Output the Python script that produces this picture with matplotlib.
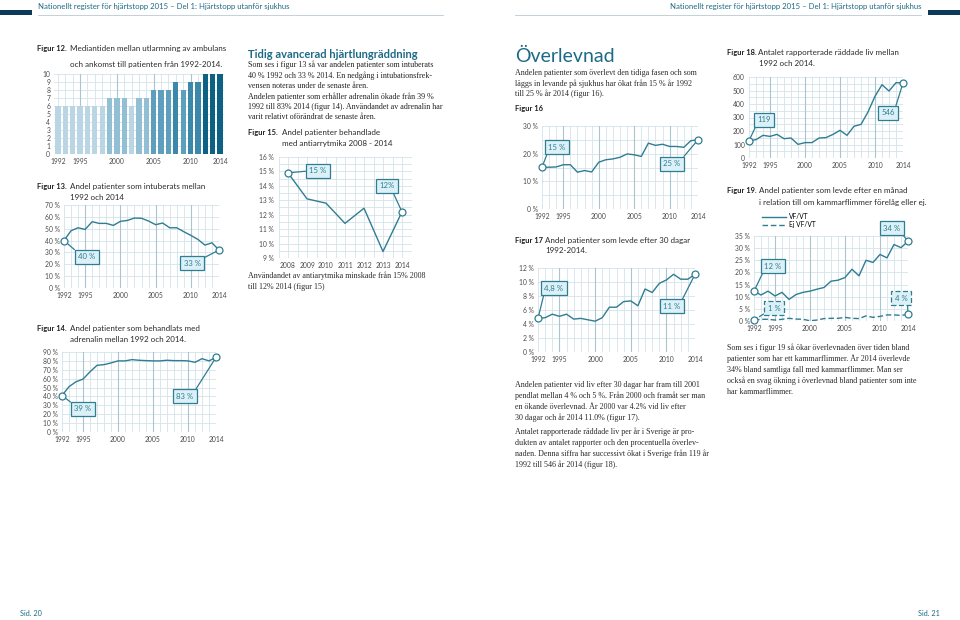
import matplotlib
matplotlib.use('Agg')
import matplotlib.pyplot as plt
from matplotlib.lines import Line2D
import numpy as np

years = list(range(1992, 2015))
year_ticks = [1992, 1995, 2000, 2005, 2010, 2014]

# fig 12: median minutes from alarm to ambulance arrival
f12_minutes = [6, 6, 6, 6, 6, 6, 6, 7, 7, 7, 6, 7, 7, 8, 8, 8, 9, 8, 9, 9, 10, 10, 10]
# fig 13: share intubated (%)
f13_intub = [40, 48.3, 50.8, 49.4, 55.9, 54.5, 54.5, 52.8, 56.2, 57, 59, 58.8,
             56.5, 53.4, 54.8, 50.8, 50.8, 47.5, 44.4, 41, 36.2, 38.1, 32]
# fig 14: share given adrenalin (%)
f14_adren = [41, 51, 56.5, 59.5, 67.7, 75, 75.8, 77.7, 80, 80, 81.4, 80.7,
             80.3, 80, 80, 80.7, 80.3, 80.3, 80, 78.4, 82.5, 80, 84]
# fig 15: antiarrhythmics 2008-2014 (%)
f15_years = list(range(2008, 2015))
f15_antiarr = [14.9, 13.1, 12.8, 11.4, 12.45, 9.45, 12.2]
# fig 16: alive at hospital admission (%)
f16_admitted = [15.1, 15.1, 15.2, 16, 16, 13.3, 13.9, 13.4, 16.9, 17.8, 18.1, 18.7,
                19.9, 19.6, 19, 23.8, 23, 23.4, 22.6, 22.6, 22.3, 24.7, 25]
# fig 17: alive after 30 days (%)
f17_30days = [4.8, 4.9, 5.4, 5.1, 5.4, 4.7, 4.8, 4.6, 4.4, 4.9, 6.4, 6.4,
              7.2, 7.3, 6.6, 9, 8.5, 9.8, 10.3, 11.1, 10.4, 10.4, 11.1]
# fig 18: reported lives saved
f18_saved = [128, 136, 168, 160, 175, 143, 148, 101, 114, 114, 148, 151,
             175, 205, 168, 235, 249, 341, 457, 543, 496, 558, 556]
# fig 19: alive after one month, VF/VT and not VF/VT (%)
f19_vf = [12.3, 10.7, 12.3, 10.3, 11.8, 8.9, 10.9, 11.8, 12.3, 13.1, 13.8, 16.4,
          16.8, 17.9, 21.3, 18.6, 25, 24.1, 27.4, 26, 31.5, 30.2, 32.8]
f19_ej_vf = [0.4, 0.7, 0.7, 0.4, 0.7, 1.1, 0.8, 0.7, 0.1, 0.4, 1, 1.1,
             1.1, 1.5, 1.1, 1, 2.1, 1.5, 1.9, 2.5, 2.5, 2.3, 2.7]

# ---- styling ----
W, H = 960, 620
SANS = ['Lato', 'DejaVu Sans']
SERIF = ['Liberation Serif', 'DejaVu Serif']
LINE = '#2f7d92'
GRID = '#d3e3ea'
GRID_DARK = '#a9c5d1'
BOXFC = '#dcf1f7'
TEAL = '#1d6a85'
TICK = '#4a4a4a'
BAR_COLORS = {6: '#bad6e5', 7: '#93bfd5', 8: '#5f9fbe', 9: '#3c88aa', 10: '#0d6283'}
BODY = 5.75

fig = plt.figure(figsize=(9.6, 6.2), dpi=100)
fig.patch.set_facecolor('white')


def txt(x, y, s, size=5.8, family=SANS, weight='normal', color='#2a2a2a', ha='left'):
    fig.text(x / W, 1 - y / H, s, fontsize=size, family=family, weight=weight,
             color=color, ha=ha, va='center')


def fig_label(x, y, s):
    txt(x, y, s, size=5.4, weight='bold', color='#1e1e1e')


def place(xa, xb, pxa, pxb, ya, yb, pya, pyb, xlim, ylim):
    # put an axes so that data (xa, ya) / (xb, yb) land on given page pixels
    sx = (pxb - pxa) / (xb - xa)
    sy = (pyb - pya) / (yb - ya)
    left = pxa + (xlim[0] - xa) * sx
    right = pxa + (xlim[1] - xa) * sx
    top = pya + (ylim[1] - ya) * sy
    bottom = pya + (ylim[0] - ya) * sy
    ax = fig.add_axes([left / W, 1 - bottom / H, (right - left) / W, (bottom - top) / H])
    ax.set_xlim(*xlim)
    ax.set_ylim(*ylim)
    for sp in ax.spines.values():
        sp.set_visible(False)
    ax.tick_params(length=0, labelsize=4.9, colors=TICK, pad=3)
    ax.set_facecolor('none')
    return ax


def draw_grid(ax, xs, hvals, dark=(1995, 2000, 2005, 2010)):
    for v in hvals:
        ax.axhline(v, color=GRID, lw=0.6, zorder=0)
    for x in xs:
        ax.axvline(x, color=GRID_DARK if x in dark else GRID,
                   lw=0.8 if x in dark else 0.6, zorder=0)


def fonts(ax):
    for lab in ax.get_xticklabels() + ax.get_yticklabels():
        lab.set_family(SANS)
        lab.set_fontsize(4.9)
        lab.set_color(TICK)


def callout(ax, x, y, s, off, rel, dashed=False):
    ls = (0, (4, 2)) if dashed else '-'
    ax.annotate(s, xy=(x, y), xytext=off, textcoords='offset pixels',
                ha='center', va='center', fontsize=5.6, color=LINE, family=SANS,
                bbox=dict(boxstyle='square,pad=0.45', fc=BOXFC, ec=LINE, lw=0.9, ls=ls),
                arrowprops=dict(arrowstyle='-', color=LINE, lw=0.9, ls=ls,
                                shrinkA=0, shrinkB=0, relpos=rel),
                annotation_clip=False, zorder=7)
    ax.plot([x], [y], 'o', ms=5, mfc='white', mec=LINE, mew=0.9, clip_on=False, zorder=8)


def pct(vals):
    return [f'{v:g} %' for v in vals]


# ---- page header / footer ----
fig.add_artist(plt.Rectangle((0, 1 - 14.5 / H), 32 / W, 5 / H, transform=fig.transFigure,
                             color='#0c3a58', lw=0))
fig.add_artist(plt.Rectangle((928 / W, 1 - 14.5 / H), 32 / W, 5 / H, transform=fig.transFigure,
                             color='#0c3a58', lw=0))
fig.add_artist(Line2D([38 / W, 443 / W], [1 - 14.5 / H] * 2, color='#b9c9d1', lw=0.6))
fig.add_artist(Line2D([515 / W, 921 / W], [1 - 14.5 / H] * 2, color='#b9c9d1', lw=0.6))
head = 'Nationellt register för hjärtstopp 2015 – Del 1: Hjärtstopp utanför sjukhus'
txt(38, 6, head, size=5.6, color=TEAL)
txt(921, 6, head, size=5.6, color=TEAL, ha='right')
txt(20, 614, 'Sid. 20', size=5.2, color=TEAL)
txt(940, 614, 'Sid. 21', size=5.2, color=TEAL, ha='right')

# ---- Figur 12 ----
fig_label(37, 49, 'Figur 12.')
txt(70, 49, 'Mediantiden mellan utlarmning av ambulans')
txt(70, 64, 'och ankomst till patienten från 1992-2014.')
ax = place(1992, 2014, 58, 220, 0, 10, 154, 74, (1991.5, 2014.5), (0, 10))
draw_grid(ax, years, range(0, 11))
ax.bar(years, f12_minutes, width=0.72, color=[BAR_COLORS[v] for v in f12_minutes], zorder=2)
ax.set_yticks(range(0, 11))
ax.set_xticks(year_ticks)
fonts(ax)

# ---- Figur 13 ----
fig_label(37, 186, 'Figur 13.')
txt(70, 186, 'Andel patienter som intuberats mellan')
txt(70, 197, '1992 och 2014')
ax = place(1992, 2014, 64, 219, 0, 70, 288, 205, (1992, 2014), (0, 70))
draw_grid(ax, years, range(0, 71, 10))
ax.plot(years, f13_intub, color=LINE, lw=1, zorder=3)
ax.set_yticks(range(0, 71, 10))
ax.set_yticklabels(pct(range(0, 71, 10)))
ax.set_xticks(year_ticks)
fonts(ax)
callout(ax, years[0], f13_intub[0], '40 %', (23, -16), (0, 1))
callout(ax, years[-1], f13_intub[-1], '33 %', (-27, -13), (1, 1))

# ---- Figur 14 ----
fig_label(37, 329, 'Figur 14.')
txt(70, 329, 'Andel patienter som behandlats med')
txt(70, 340, 'adrenalin mellan 1992 och 2014.')
ax = place(1992, 2014, 62, 216, 0, 90, 432, 352, (1992, 2014), (0, 90))
draw_grid(ax, years, range(0, 91, 10))
ax.plot(years, f14_adren, color=LINE, lw=1, zorder=3)
ax.set_yticks(range(0, 91, 10))
ax.set_yticklabels(pct(range(0, 91, 10)))
ax.set_xticks(year_ticks)
fonts(ax)
callout(ax, years[0], f14_adren[0], '39 %', (21, -13), (0, 1))
callout(ax, years[-1], f14_adren[-1], '83 %', (-31, -39), (1, 1))

# ---- middle column text ----
txt(248, 54, 'Tidig avancerad hjärtlungräddning', size=8, weight='bold', color=TEAL)
body1 = ['Som ses i figur 13 så var andelen patienter som intuberats',
         '40 % 1992 och 33 % 2014. En nedgång i intubationsfrek-',
         'vensen noteras under de senaste åren.',
         'Andelen patienter som erhåller adrenalin ökade från 39 %',
         '1992 till 83% 2014 (figur 14). Användandet av adrenalin har',
         'varit relativt oförändrat de senaste åren.']
for i, line in enumerate(body1):
    txt(248, 65 + i * 10.5, line, size=BODY, family=SERIF, color='#222222')

fig_label(248, 132, 'Figur 15.')
txt(282, 132, 'Andel patienter behandlade')
txt(282, 143, 'med antiarrytmika 2008 - 2014')
ax = place(2008, 2014, 288, 402, 9, 16, 258, 157, (2007.5, 2014.5), (9, 16))
draw_grid(ax, np.arange(2007.5, 2014.6, 0.5), np.arange(9, 16.01, 0.5), dark=())
ax.plot(f15_years, f15_antiarr, color=LINE, lw=1, zorder=3)
ax.set_yticks(range(9, 17))
ax.set_yticklabels(pct(range(9, 17)))
ax.set_xticks(f15_years)
fonts(ax)
callout(ax, f15_years[0], f15_antiarr[0], '15 %', (30, 2), (0, 0.5))
callout(ax, f15_years[-1], f15_antiarr[-1], '12%', (-15, 26), (0.8, 0))
txt(248, 276, 'Användandet av antiarytmika minskade från 15% 2008', size=BODY, family=SERIF)
txt(248, 287, 'till 12% 2014 (figur 15)', size=BODY, family=SERIF)

# ---- Överlevnad column ----
txt(515, 56, 'Överlevnad', size=14, color=TEAL)
body2 = ['Andelen patienter som överlevt den tidiga fasen och som',
         'läggs in levande på sjukhus har ökat från 15 % år 1992',
         'till 25 % år 2014 (figur 16).']
for i, line in enumerate(body2):
    txt(515, 73 + i * 10.3, line, size=BODY, family=SERIF)
fig_label(515, 108, 'Figur 16')
ax = place(1992, 2014, 542, 698, 0, 30, 209, 126, (1992, 2014), (0, 30))
draw_grid(ax, years, range(0, 31, 5))
ax.plot(years, f16_admitted, color=LINE, lw=1, zorder=3)
ax.set_yticks(range(0, 31, 10))
ax.set_yticklabels(pct(range(0, 31, 10)))
ax.set_xticks(year_ticks)
fonts(ax)
callout(ax, years[0], f16_admitted[0], '15 %', (15, 20), (0, 0))
callout(ax, years[-1], f16_admitted[-1], '25 %', (-26, -24), (1, 1))

fig_label(515, 240, 'Figur 17')
txt(545, 240, 'Andel patienter som levde efter 30 dagar')
txt(545, 251, '1992-2014.')
ax = place(1992, 2014, 538, 695, 0, 12, 352, 268, (1992, 2014), (0, 12))
draw_grid(ax, years, range(0, 13, 2))
ax.plot(years, f17_30days, color=LINE, lw=1, zorder=3)
ax.set_yticks(range(0, 13, 2))
ax.set_yticklabels(pct(range(0, 13, 2)))
ax.set_xticks(year_ticks)
fonts(ax)
callout(ax, years[0], f17_30days[0], '4,8 %', (16, 30), (0, 0))
callout(ax, years[-1], f17_30days[-1], '11 %', (-23, -32), (1, 1))

body3 = ['Andelen patienter vid liv efter 30 dagar har fram till 2001',
         'pendlat mellan 4 % och 5 %. Från 2000 och framåt ser man',
         'en ökande överlevnad. År 2000 var 4.2% vid liv efter',
         '30 dagar och år 2014 11.0% (figur 17).']
for i, line in enumerate(body3):
    txt(515, 385 + i * 10.9, line, size=BODY, family=SERIF)
body4 = ['Antalet rapporterade räddade liv per år i Sverige är pro-',
         'dukten av antalet rapporter och den procentuella överlev-',
         'naden. Denna siffra har successivt ökat i Sverige från 119 år',
         '1992 till 546 år 2014 (figur 18).']
for i, line in enumerate(body4):
    txt(515, 432 + i * 10.9, line, size=BODY, family=SERIF)

# ---- Figur 18 ----
fig_label(727, 53, 'Figur 18.')
txt(758, 53, 'Antalet rapporterade räddade liv mellan')
txt(759, 63, '1992 och 2014.')
ax = place(1992, 2014, 749, 903, 0, 600, 158, 77, (1992, 2014), (0, 600))
draw_grid(ax, years, range(0, 601, 50))
ax.plot(years, f18_saved, color=LINE, lw=1, zorder=3)
ax.set_yticks(range(0, 601, 100))
ax.set_xticks(year_ticks)
fonts(ax)
callout(ax, years[0], f18_saved[0], '119', (15, 21), (0, 0))
callout(ax, years[-1], f18_saved[-1], '546', (-15, -30), (1, 1))

# ---- Figur 19 ----
fig_label(727, 191, 'Figur 19.')
txt(759, 191, 'Andel patienter som levde efter en månad')
txt(759, 202, 'i relation till om kammarflimmer förelåg eller ej.')
ax = place(1992, 2014, 754, 908, 0, 35, 321, 236, (1992, 2014), (0, 35))
draw_grid(ax, years, range(0, 36, 5))
ax.plot(years, f19_vf, color=LINE, lw=1, zorder=3, label='VF/VT')
ax.plot(years, f19_ej_vf, color=LINE, lw=1, ls=(0, (4, 2)), zorder=3, label='Ej VF/VT')
ax.set_yticks(range(0, 36, 5))
ax.set_yticklabels(pct(range(0, 36, 5)))
ax.set_xticks(year_ticks)
fonts(ax)
ax.legend(loc='upper left', bbox_to_anchor=(762 / W, 1 - 213 / H), bbox_transform=fig.transFigure,
          frameon=False, prop={'family': SANS, 'size': 4.8}, handlelength=3.6,
          labelspacing=0.2, borderaxespad=0, borderpad=0, handletextpad=0.4)
callout(ax, years[0], f19_vf[0], '12 %', (19, 25), (0, 0))
callout(ax, years[-1], f19_vf[-1], '34 %', (-16, 13), (1, 0))
callout(ax, years[0], f19_ej_vf[0], '1 %', (20, 12), (0, 0), dashed=True)
callout(ax, years[-1], f19_ej_vf[-1], '4 %', (-7, 16), (1, 0), dashed=True)

body5 = ['Som ses i figur 19 så ökar överlevnaden över tiden bland',
         'patienter som har ett kammarflimmer. År 2014 överlevde',
         '34% bland samtliga fall med kammarflimmer. Man ser',
         'också en svag ökning i överlevnad bland patienter som inte',
         'har kammarflimmer.']
for i, line in enumerate(body5):
    txt(727, 348 + i * 10.9, line, size=BODY, family=SERIF)

fig.savefig('out.png', dpi=100)
